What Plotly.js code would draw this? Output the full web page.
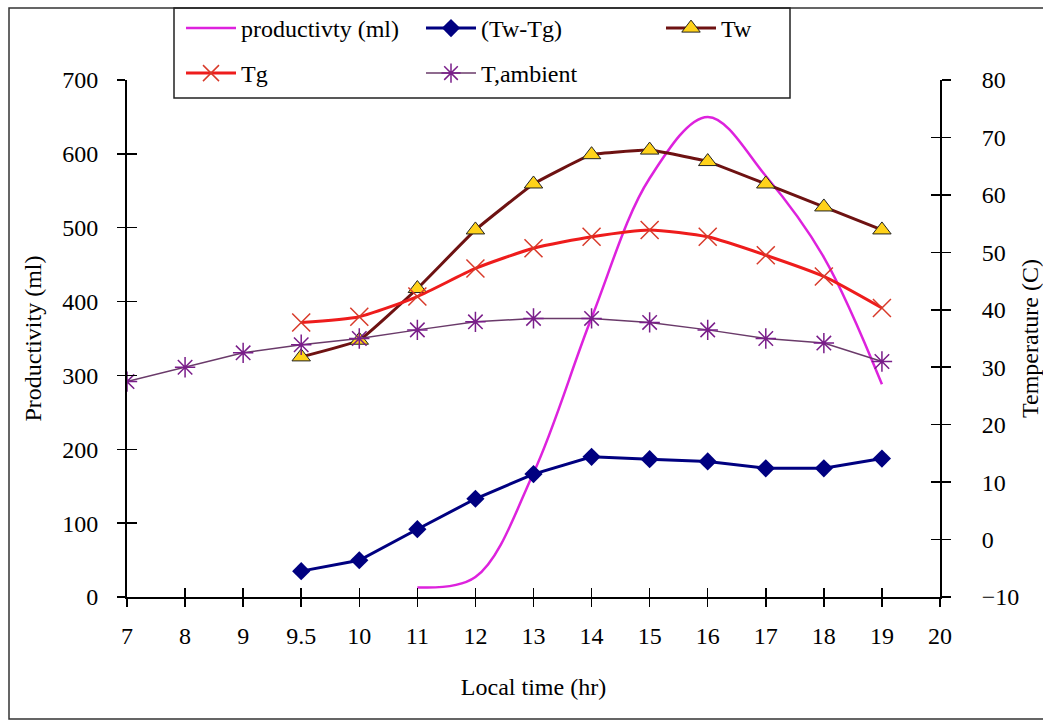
<!DOCTYPE html>
<html>
<head>
<meta charset="utf-8">
<script src="https://cdn.plot.ly/plotly-3.0.1.min.js"></script>
<style>html,body{margin:0;padding:0;background:#fff;}#chart{width:1043px;height:721px;}</style>
</head>
<body>
<div id="chart"></div>
<script>
// Categories (local time, hr) — equally spaced category axis
const hours = ["7","8","9","9.5","10","11","12","13","14","15","16","17","18","19","20"];

// Productivity (ml), left axis
const prodHours = ["11","12","13","14","15","16","17","18","19"];
const productivity = [13, 27, 168, 378, 567, 650, 570, 460, 288];

// Temperatures (C), right axis
const tempHours = ["9.5","10","11","12","13","14","15","16","17","18","19"];
const twMinusTg = [-5.5, -3.6, 1.8, 7.1, 11.4, 14.4, 14.0, 13.6, 12.4, 12.4, 14.1];
const tw        = [31.8, 34.7, 43.7, 53.9, 61.9, 67.0, 67.8, 65.8, 61.9, 57.9, 53.9];
const tg        = [37.8, 38.8, 42.3, 47.2, 50.7, 52.7, 53.9, 52.7, 49.5, 45.8, 40.3];

const ambHours = ["7","8","9","9.5","10","11","12","13","14","15","16","17","18","19"];
const tAmbient = [27.5, 30.0, 32.5, 33.9, 35.0, 36.5, 37.9, 38.5, 38.5, 37.8, 36.5, 35.0, 34.2, 31.0];

const FONT = "Liberation Serif, Times New Roman, serif";

const traces = [
  {x: hours, y: hours.map(() => null), type: 'scatter', mode: 'lines', showlegend: false, hoverinfo: 'skip', xaxis: 'x', yaxis: 'y'},
  {name: 'productivty (ml)', x: prodHours, y: productivity, type: 'scatter', mode: 'lines',
   line: {color: '#DD22DD', width: 2.5, shape: 'spline', smoothing: 1}, xaxis: 'x', yaxis: 'y', legend: 'legend'},
  {name: '(Tw-Tg)', x: tempHours, y: twMinusTg, type: 'scatter', mode: 'lines+markers',
   line: {color: '#000080', width: 3}, marker: {symbol: 'diamond', size: 14, color: '#000080'},
   xaxis: 'x', yaxis: 'y2', legend: 'legend'},
  {name: 'Tw', x: tempHours, y: tw, type: 'scatter', mode: 'lines+markers',
   line: {color: '#6E1212', width: 3, shape: 'spline', smoothing: 0.3}, marker: {symbol: 'triangle-up', size: 16, color: '#FFD21A', line: {color: '#222', width: 1}},
   xaxis: 'x', yaxis: 'y2', legend: 'legend'},
  {name: 'Tg', x: tempHours, y: tg, type: 'scatter', mode: 'lines+markers',
   line: {color: '#EE1C1C', width: 3, shape: 'spline', smoothing: 0.6}, marker: {symbol: 'x-thin-open', size: 18, color: '#D83A2A', line: {color: '#D83A2A', width: 1.5}},
   xaxis: 'x', yaxis: 'y2', legend: 'legend2'},
  {name: 'T,ambient', x: ambHours, y: tAmbient, type: 'scatter', mode: 'lines+markers',
   line: {color: '#6A3A6A', width: 1.5}, marker: {symbol: 'asterisk-open', size: 17, color: '#7A1E8A', line: {color: '#7A1E8A', width: 1.5}},
   xaxis: 'x', yaxis: 'y2', legend: 'legend2'},
  // empty traces for the inner halves of the crossing tick marks
  {x: [], y: [], type: 'scatter', showlegend: false, xaxis: 'x2', yaxis: 'y3'},
  {x: [], y: [], type: 'scatter', showlegend: false, xaxis: 'x2', yaxis: 'y4'}
];

const W = 813, H = 517, L = 127, T = 80;
const px = v => (v - L) / W;
const py = v => (T + H - v) / H;

const tickFont = {family: FONT, size: 24, color: '#000'};

const layout = {
  width: 1043, height: 721,
  margin: {l: 127, r: 103, t: 80, b: 124, pad: 0, autoexpand: false},
  paper_bgcolor: '#fff', plot_bgcolor: '#fff',
  font: {family: FONT, size: 24, color: '#000'},
  showlegend: true,
  xaxis: {type: 'category', categoryorder: 'array', categoryarray: hours, range: [0, 14],
    showline: true, linecolor: '#000', linewidth: 2, showgrid: false, zeroline: false,
    ticks: 'outside', ticklen: 8, tickwidth: 1.5, tickcolor: '#000', tickfont: tickFont,
    ticklabelstandoff: 8,
    title: {text: 'Local time (hr)', font: {family: FONT, size: 24, color: '#000'}, standoff: 30}},
  xaxis2: {overlaying: 'x', anchor: 'y3', range: [0, 14], dtick: 1, tick0: 0, showline: false, showgrid: false,
    zeroline: false, ticks: 'inside', ticklen: 9, tickwidth: 1.5, tickcolor: '#000', showticklabels: false, fixedrange: true},
  yaxis: {range: [0, 700], dtick: 100, showline: true, linecolor: '#000', linewidth: 2, showgrid: false, zeroline: false,
    ticks: 'outside', ticklen: 8, tickwidth: 1.5, tickcolor: '#000', tickfont: tickFont, ticklabelstandoff: 14,
    title: {text: 'Productivity (ml)', font: {family: FONT, size: 24, color: '#000'}, standoff: 14}},
  yaxis2: {overlaying: 'y', side: 'right', anchor: 'x', range: [-10, 80], dtick: 10, showline: true, linecolor: '#000', linewidth: 2,
    showgrid: false, zeroline: false, ticks: 'outside', ticklen: 9, tickwidth: 1.5, tickcolor: '#000', tickfont: tickFont,
    ticklabelstandoff: 26,
    title: {text: 'Temperature (C)', font: {family: FONT, size: 24, color: '#000'}, standoff: 4}},
  yaxis3: {overlaying: 'y', anchor: 'x2', side: 'left', range: [0, 700], dtick: 100, showline: false, showgrid: false, zeroline: false,
    ticks: 'inside', ticklen: 10, tickwidth: 1.5, tickcolor: '#000', showticklabels: false, fixedrange: true},
  yaxis4: {overlaying: 'y', anchor: 'free', position: 1, side: 'right', range: [-10, 80], dtick: 10, showline: false, showgrid: false, zeroline: false,
    ticks: 'inside', ticklen: 9, tickwidth: 1.5, tickcolor: '#000', showticklabels: false, fixedrange: true},
  legend: {orientation: 'h', x: px(181), xanchor: 'left', y: py(6), yanchor: 'top',
    bgcolor: 'rgba(0,0,0,0)', borderwidth: 0, entrywidth: 175, entrywidthmode: 'pixels', itemwidth: 50,
    font: {family: FONT, size: 24, color: '#000'}},
  legend2: {orientation: 'h', x: px(181), xanchor: 'left', y: py(51), yanchor: 'top',
    bgcolor: 'rgba(0,0,0,0)', borderwidth: 0, entrywidth: 175, entrywidthmode: 'pixels', itemwidth: 50,
    font: {family: FONT, size: 24, color: '#000'}},
  shapes: [
    {type: 'rect', xref: 'paper', yref: 'paper', x0: px(9), x1: px(1060), y0: py(719), y1: py(8),
     line: {color: '#333', width: 1.5}, fillcolor: 'rgba(0,0,0,0)', layer: 'below'},
    {type: 'rect', xref: 'paper', yref: 'paper', x0: px(174), x1: px(790), y0: py(98), y1: py(8),
     line: {color: '#222', width: 1.5}, fillcolor: 'rgba(0,0,0,0)', layer: 'above'}
  ]
};

Plotly.newPlot('chart', traces, layout, {displayModeBar: false, staticPlot: true});
</script>
</body>
</html>
